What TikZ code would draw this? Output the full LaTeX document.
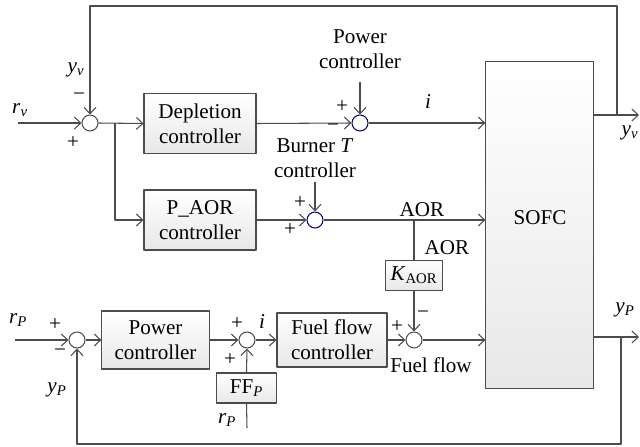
\documentclass[tikz,border=0pt]{standalone}
\usepackage{fontspec}
\setmainfont{Liberation Serif}
\usetikzlibrary{arrows.meta}

\begin{document}
\begin{tikzpicture}[x=0.025cm, y=-0.025cm, line join=round,
    font=\fontsize{15}{18}\selectfont,
    sig/.style={line width=0.75pt, draw=black!70},
    arr/.style={sig, -{Straight Barb[length=4.5pt,width=8.5pt]}},
    blk/.style={draw=black!70, line width=0.75pt, top color=white, bottom color=black!9,
        align=center, inner sep=0, minimum width=2.8cm, minimum height=1.48cm},
    sumc/.style={circle, draw=black!70, line width=0.75pt, fill=white, inner sep=0, minimum size=0.4cm},
    sumb/.style={sumc, draw=blue!50!black},
    lbl/.style={inner sep=0, align=center}]
    \useasboundingbox (0,0) rectangle (640,447);

    % Bloques
    \node[blk] (dep) at (200,123.5) {Depletion\\controller};
    \node[blk, minimum height=1.5cm] (paor) at (200,220) {P\_AOR\\controller};
    \node[blk, minimum width=2.68cm, minimum height=1.45cm] (pc) at (155.5,340) {Power\\controller};
    \node[blk, minimum width=2.75cm, minimum height=1.35cm] (ffc) at (332,340) {Fuel flow\\controller};
    \node[blk, minimum width=1.43cm, minimum height=0.73cm] (kaor) at (414,275.5) {\textit{K}\textsubscript{AOR}};
    \node[blk, minimum width=1.48cm, minimum height=0.75cm] (ffp) at (246.5,388) {FF\textsubscript{\textit{P}}};
    \node[blk, minimum width=2.68cm, minimum height=8.15cm] (sofc) at (539.5,225) {};
    \node[lbl] (sofclbl) at (540,218) {SOFC};

    % Sumadores
    \node[sumc] (sumV) at (90,123) {};
    \node[sumb] (sumI) at (360,123) {};
    \node[sumb] (sumA) at (315,220) {};
    \node[sumc] (sumF) at (414,340) {};
    \node[sumc] (sumP) at (77,340) {};
    \node[sumc] (sumC) at (247,340) {};

    % Puntos auxiliares
    \coordinate (rvin) at (18,123);
    \coordinate (brV) at (115,123);
    \coordinate (topy) at (0,6);
    \coordinate (yvjoin) at (617,115);
    \coordinate (yvend) at (639,115);
    \coordinate (pwrin) at (360,82);
    \coordinate (burnin) at (315,182);
    \coordinate (aorbr) at (414,220);
    \coordinate (rPin) at (15,340);
    \coordinate (rPbot) at (247,428);
    \coordinate (ypjoin) at (621,337);
    \coordinate (ypend) at (639,337);
    \coordinate (boty) at (0,444);

    % Lazo de y_v
    \draw[arr] (rvin) -- (sumV.west);
    \draw[arr] (sumV.east) -- (dep.west);
    \draw[arr] (brV) |- (paor.west);
    \draw[arr] (dep.east) -- (sumI.west);
    \draw[arr] (pwrin) -- (sumI.north);
    \draw[arr] (sumI.east) -- (sumI -| sofc.west);
    \draw[arr] (sofc.east |- yvend) -- (yvend);
    \draw[arr] (yvjoin) -- (yvjoin |- topy) -| (sumV.north);

    % Rama AOR
    \draw[arr] (paor.east) -- (sumA.west);
    \draw[arr] (burnin) -- (sumA.north);
    \draw[arr] (sumA.east) -- (sumA -| sofc.west);
    \draw[sig] (aorbr) -- (kaor.north);
    \draw[arr] (kaor.south) -- (sumF.north);

    % Lazo de potencia
    \draw[arr] (rPin) -- (sumP.west);
    \draw[arr] (sumP.east) -- (pc.west);
    \draw[arr] (pc.east) -- (sumC.west);
    \draw[arr] (sumC.east) -- (ffc.west);
    \draw[arr] (ffc.east) -- (sumF.west);
    \draw[arr] (sumF.east) -- (sumF -| sofc.west);
    \draw[sig] (rPbot) -- (ffp.south);
    \draw[arr] (ffp.north) -- (sumC.south);
    \draw[arr] (sofc.east |- ypend) -- (ypend);
    \draw[arr] (ypjoin) -- (ypjoin |- boty) -| (sumP.south);

    % Etiquetas
    \node[lbl] (rvlbl) at (20,110) {\textit{r}\textsubscript{\textit{v}}};
    \node[lbl] (yvlbl) at (76,70) {\textit{y}\textsubscript{\textit{v}}};
    \node[lbl] (sVm) at (79,97) {−};
    \node[lbl] (sVp) at (73,143) {+};
    \node[lbl] (pwrlbl) at (360,49) {Power\\controller};
    \node[lbl] (sIp) at (342,107) {+};
    \node[lbl] (sIm) at (333,128) {−};
    \node[lbl] (ilbl) at (428,102) {\textit{i}};
    \node[lbl] (yvout) at (630,133) {\textit{y}\textsubscript{\textit{v}}};
    \node[lbl] (burnlbl) at (315,158) {Burner \textit{T}\\controller};
    \node[lbl] (sAp1) at (300,203) {+};
    \node[lbl] (sAp2) at (290,230) {+};
    \node[lbl] (aorlbl) at (422,210) {AOR};
    \node[lbl] (aorlbl2) at (447,248) {AOR};
    \node[lbl] (sFm) at (423,315) {−};
    \node[lbl] (sFp) at (397,327) {+};
    \node[lbl] (fflbl) at (431,365) {Fuel flow};
    \node[lbl] (yPout) at (625,310) {\textit{y}\textsubscript{\textit{P}}};
    \node[lbl] (rPlbl) at (18,320) {\textit{r}\textsubscript{\textit{P}}};
    \node[lbl] (sPp) at (55,325) {+};
    \node[lbl] (sPm) at (60,353) {−};
    \node[lbl] (yPlbl) at (57,390) {\textit{y}\textsubscript{\textit{P}}};
    \node[lbl] (sCp1) at (237,324) {+};
    \node[lbl] (i2lbl) at (262,322) {\textit{i}};
    \node[lbl] (sCp2) at (230,360) {+};
    \node[lbl] (rPlbl2) at (227,420) {\textit{r}\textsubscript{\textit{P}}};
\end{tikzpicture}
\end{document}
